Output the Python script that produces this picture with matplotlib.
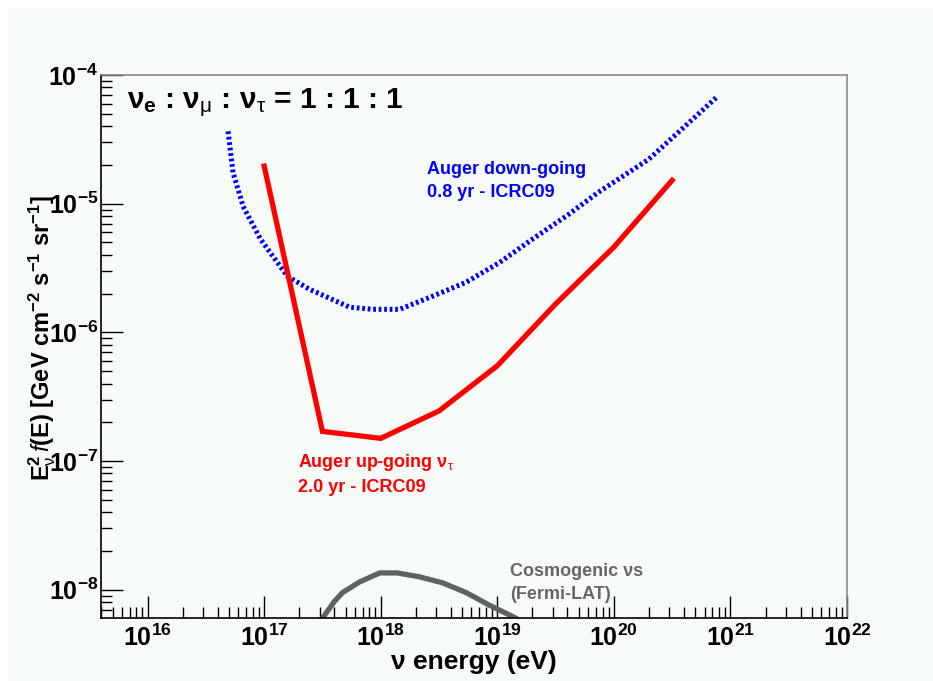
import matplotlib
matplotlib.use('Agg')
import matplotlib.pyplot as plt
from matplotlib.ticker import LogLocator, FuncFormatter, NullFormatter
import numpy as np

plt.rcParams['font.family'] = ['Liberation Sans Narrow', 'Liberation Sans', 'DejaVu Sans']
plt.rcParams['mathtext.fontset'] = 'custom'
plt.rcParams['mathtext.rm'] = 'Liberation Sans'
plt.rcParams['mathtext.it'] = 'Liberation Sans:italic'
plt.rcParams['mathtext.bf'] = 'Liberation Sans:bold'

# Auger down-going, 0.8 yr (ICRC09)
down_energy = [4.9e16, 5.4e16, 6.6e16, 9.3e16, 1.58e17, 2.45e17, 5.4e17, 8.5e17,
               1.45e18, 2.75e18, 5.4e18, 1.05e19, 2.0e19, 3.9e19, 7.4e19, 2.0e20, 7.6e20]
down_flux = [3.65e-5, 1.75e-5, 9.5e-6, 5.3e-6, 2.73e-6, 2.16e-6, 1.57e-6, 1.51e-6,
             1.51e-6, 1.9e-6, 2.45e-6, 3.5e-6, 5.3e-6, 8.0e-6, 1.23e-5, 2.22e-5, 6.7e-5]

# Auger up-going nu_tau, 2.0 yr (ICRC09)
up_energy = [1e17, 3.16e17, 1e18, 3.16e18, 1e19, 3.16e19, 1e20, 3.16e20]
up_flux = [1.96e-5, 1.7e-7, 1.5e-7, 2.45e-7, 5.5e-7, 1.66e-6, 4.6e-6, 1.52e-5]

# Cosmogenic neutrinos (Fermi-LAT)
cosmo_energy = [2.8e17, 3.16e17, 4.0e17, 4.7e17, 6.6e17, 9.8e17, 1.38e18, 2.14e18,
                3.4e18, 5.4e18, 8.5e18, 1.45e19, 1.8e19]
cosmo_flux = [4.5e-9, 6.0e-9, 8.1e-9, 9.5e-9, 1.15e-8, 1.35e-8, 1.35e-8, 1.26e-8,
              1.13e-8, 9.5e-9, 7.6e-9, 6.0e-9, 5.0e-9]

bg = '#f6fbf8'
fig = plt.figure(figsize=(9.33, 6.81), dpi=100, facecolor='white')
fig.patches.append(plt.Rectangle((8 / 933, 0), 1, 1 - 8 / 681, transform=fig.transFigure,
                                 facecolor=bg, edgecolor='none', zorder=-10))
ax = fig.add_axes([101 / 933, 1 - 618 / 681, (847 - 101) / 933, (618 - 75) / 681])
ax.set_facecolor(bg)

ax.plot(down_energy, down_flux, color='#0000ff', lw=3.6, ls=(0, (0.55, 0.55)),
        solid_capstyle='butt', dash_capstyle='butt')
ax.plot(up_energy, up_flux, color='#ff0000', lw=3.8, solid_joinstyle='miter')
ax.plot(cosmo_energy, cosmo_flux, color='#5e6361', lw=3.8)

ax.set_xscale('log')
ax.set_yscale('log')
ax.set_xlim(10 ** 15.6, 1e22)
ax.set_ylim(10 ** -8.22, 1e-4)

for s in ['top', 'right']:
    ax.spines[s].set_color('#8a8a8a')
    ax.spines[s].set_linewidth(1.2)
for s in ['left', 'bottom']:
    ax.spines[s].set_color('black')
    ax.spines[s].set_linewidth(1.2)

ax.xaxis.set_major_locator(LogLocator(base=10, numticks=20))
ax.xaxis.set_minor_locator(LogLocator(base=10, subs=np.arange(2, 10), numticks=20))
ax.yaxis.set_major_locator(LogLocator(base=10, numticks=20))
ax.yaxis.set_minor_locator(LogLocator(base=10, subs=np.arange(2, 10), numticks=20))
ax.xaxis.set_minor_formatter(NullFormatter())
ax.yaxis.set_minor_formatter(NullFormatter())

fmt = FuncFormatter(lambda v, p: r'$\mathbf{10^{%d}}$' % int(round(np.log10(v))))
ax.xaxis.set_major_formatter(fmt)
ax.yaxis.set_major_formatter(fmt)

ax.tick_params(which='both', direction='in', top=False, right=False, color='black', width=1)
ax.tick_params(which='major', length=16, labelsize=18)
ax.tick_params(which='minor', length=8)
ax.tick_params(axis='x', pad=5)
ax.tick_params(axis='y', pad=2)

ax.set_xlabel(r'ν energy (eV)', fontsize=19, fontweight='bold', labelpad=-1)
ax.set_ylabel(r'E$^{\mathbf{2}}_{\mathrm{ν}}$$\,f$(E) [GeV cm$^{\mathbf{-2}}$ s$^{\mathbf{-1}}$ sr$^{\mathbf{-1}}$]',
              fontsize=17, fontweight='bold', family='Liberation Sans')
ax.yaxis.set_label_coords(-0.058, 0.516)

fig.text(127 / 933, 1 - 103 / 681,
         r'ν$_{\mathbf{e}}$ : ν$_{\mathrm{μ}}$ : ν$_{\mathrm{τ}}$ = 1 : 1 : 1',
         fontsize=21.5, fontweight='bold', va='center', ha='left')

lab = dict(fontsize=13, fontweight='bold', va='center', ha='left', linespacing=1.4,
           family='Liberation Sans')
fig.text(427 / 933, 1 - 181 / 681, 'Auger down-going\n0.8 yr - ICRC09', color='#0000ff', **lab)
fig.text(298 / 933, 1 - 474 / 681, 'Auger up-going ν' + r'$_{\mathrm{τ}}$' + '\n2.0 yr - ICRC09',
         color='#ff0000', **lab)
fig.text(510 / 933, 1 - 583 / 681, 'Cosmogenic νs\n(Fermi-LAT)', color='#666666', **lab)

fig.savefig('out.png', dpi=100, facecolor='white')
